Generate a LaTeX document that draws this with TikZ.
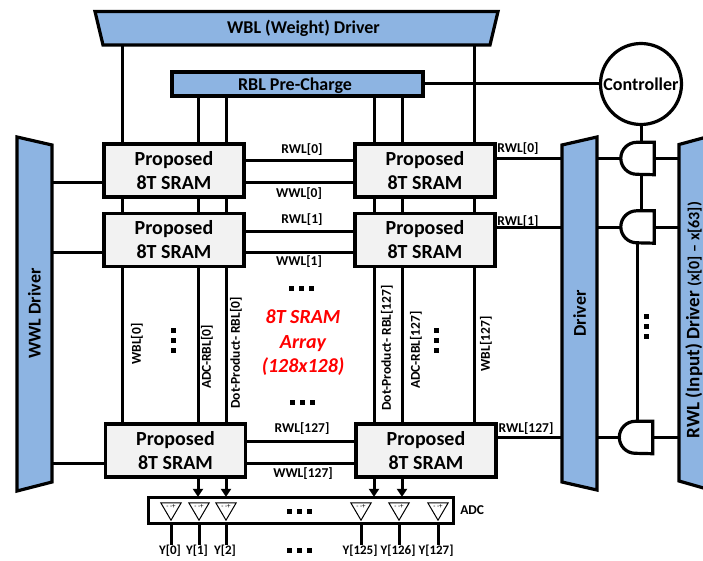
\documentclass[tikz,border=0pt]{standalone}
\usepackage{fontspec}
\setmainfont{Carlito}
\usepackage{tikz}
\usetikzlibrary{arrows.meta,positioning,calc}
\definecolor{drvfill}{HTML}{8DB4E2}
\definecolor{cellfill}{HTML}{F2F2F2}
\tikzset{
  wire/.style={line width=3pt},
  bus/.style={wire, -{Triangle[length=8pt,width=10pt]}, shorten >=-1pt},
  drvbox/.style={draw, line width=3.2pt, fill=drvfill, line join=miter},
  body/.style={inner sep=0pt, font=\bfseries\fontsize{18}{20}\selectfont},
  sram/.style={draw, line width=3.2pt, fill=cellfill, align=center, inner sep=0pt,
               minimum width=140pt, minimum height=53pt,
               font=\bfseries\fontsize{20}{24}\selectfont},
  lab/.style={inner sep=0pt, font=\bfseries\fontsize{13.5}{15}\selectfont},
  ylab/.style={inner sep=0pt, font=\bfseries\fontsize{13}{15}\selectfont},
  vlab/.style={lab, rotate=90},
  gatebox/.style={inner sep=0pt, minimum width=33pt, minimum height=32pt},
  dot/.style={fill, inner sep=0pt, minimum size=5pt}
}
\begin{document}
\begin{tikzpicture}[x=1pt,y=-1pt]
  \useasboundingbox (0,0) rectangle (703,561);
  % drivers
  \draw[drvbox] (95,11.5) -- (498,11.5) -- (490,45) -- (103,45) -- cycle;
  \draw[drvbox] (17,137) -- (52,145) -- (52,482) -- (17,491) -- cycle;
  \draw[drvbox] (562,145) -- (597,137) -- (597,490) -- (562,482) -- cycle;
  \draw[drvbox] (679,144.5) -- (714,135) -- (714,491) -- (679,481) -- cycle;
  \node[body, minimum width=387pt, minimum height=33.5pt] (wbl) at (296.5,28.25) {\hspace*{14pt}WBL (Weight) Driver};
  \node[body, minimum width=35pt, minimum height=337pt] (wwl) at (34.5,313.5)
    {\rotatebox{90}{WWL Driver}};
  \node[body, minimum width=35pt, minimum height=337pt] (drv) at (579.5,313.5)
    {\rotatebox{90}{Driver}};
  \node[body, minimum width=29pt, minimum height=337pt, anchor=west] (inp) at (679,320)
    {\rotatebox{90}{\fontsize{19}{20}\selectfont RWL (Input) Driver \fontsize{16}{20}\selectfont(x[0] -- x[63])}};
  \node[draw, line width=3.2pt, fill=drvfill, inner sep=0pt, minimum width=251pt, minimum height=24pt,
        font=\bfseries\fontsize{18}{20}\selectfont, text depth=0pt] (pre) at (297.5,84) {\hspace*{-5pt}RBL Pre-Charge};
  \node[draw, circle, line width=3.2pt, fill=white, inner sep=0pt, minimum size=81pt,
        font=\bfseries\fontsize{18}{20}\selectfont] (ctrl) at (641,84) {Controller};
  % cells
  \node[sram] (c0l) at (174,170.5) {Proposed\\8T SRAM};
  \node[sram] (c0r) at (425,170.5) {Proposed\\8T SRAM};
  \node[sram] (c1l) at (174,240) {Proposed\\8T SRAM};
  \node[sram] (c1r) at (425,240) {Proposed\\8T SRAM};
  \node[sram] (c2l) at (175.5,450.5) {Proposed\\8T SRAM};
  \node[sram] (c2r) at (426,450.5) {Proposed\\8T SRAM};
  % adc
  \node[draw, line width=3.2pt, inner sep=0pt, minimum width=305pt, minimum height=26pt] (adc) at (301,510.5) {};
  \node[lab, right=5pt of adc] (adclab) {ADC};
  % columns
  \foreach \n/\x in {wa/122, ra/198, da/226, db/374, rb/402, wb/474}
    \coordinate (\n) at (\x,0);
  \draw[wire] (wbl.south -| wa) -- (c0l.north -| wa);
  \draw[wire] (wbl.south -| wb) -- (c0r.north -| wb);
  \foreach \n in {ra, da}
    \draw[wire] (pre.south -| \n) -- (c0l.north -| \n);
  \foreach \n in {db, rb}
    \draw[wire] (pre.south -| \n) -- (c0r.north -| \n);
  \foreach \n/\c in {wa/l, ra/l, da/l, db/r, rb/r, wb/r} {
    \draw[wire] (c0\c.south -| \n) -- (c1\c.north -| \n);
    \draw[wire] (c1\c.south -| \n) -- (c2\c.north -| \n);
  }
  \foreach \n/\c in {ra/l, da/l, db/r, rb/r}
    \draw[bus] (c2\c.south -| \n) -- (adc.north -| \n);
  \draw[wire] (pre.east) -- (ctrl.west);
  % word lines
  \foreach \r/\yr/\yw in {0/161/183, 1/231/252, 2/441/463} {
    \coordinate (rw\r) at (0,\yr);
    \coordinate (ww\r) at (0,\yw);
    \draw[wire] (c\r l.east |- rw\r) -- (c\r r.west |- rw\r);
    \draw[wire] (c\r l.east |- ww\r) -- (c\r r.west |- ww\r);
    \draw[wire] (wwl.east |- ww\r) -- (c\r l.west |- ww\r);
  }
  % gates
  \foreach \r/\x/\y in {0/637.5/158.5, 1/637.5/227, 2/636/437.5} {
    \node[gatebox] (g\r) at (\x,\y) {};
    \coordinate (gy\r) at (0,\y);
    \draw[wire] (c\r r.east |- gy\r) -- (drv.west |- gy\r);
    \draw[wire] (drv.east |- gy\r) -- (g\r.west);
    \draw[wire] (g\r.east) -- (inp.west |- gy\r);
    \draw[line width=3.2pt, fill=white] (g\r.north east) -- ($(g\r.north west)+(16,0)$)
      arc[start angle=90, end angle=270, radius=16pt] -- (g\r.south east) -- cycle;
  }
  \draw[wire] (ctrl.south) -- (ctrl.south |- g0.north);
  \draw[wire] (g0.south -| ctrl) -- (g1.north -| ctrl);
  \coordinate (gl) at (637.5,0);
  \draw[wire] (g1.south -| gl) -- (g2.north -| gl);
  % comparators
  \foreach \n/\x/\xt/\t in {a0/171/170/Y[0], a1/199/197/Y[1], a2/226/225/Y[2],
      a3/361/360/Y[125], a4/399/398/Y[126], a5/438/436/Y[127]} {
    \node[inner sep=0pt, minimum width=20pt, minimum height=17pt] (\n) at (\x,511.5) {};
    \draw[line width=1pt] (\n.north west) -- (\n.north east) -- (\n.south) -- cycle;
    \node[inner sep=0pt, font=\fontsize{7}{7}\selectfont] (\n s) at ($(\n.north)+(0,3.5)$) {- -+};
    \node[ylab] (\n y) at (\xt,551) {\t};
    \draw[wire] (\n |- adc.south) -- (\n |- \n y.north);
  }
  % labels
  \foreach \t/\x/\y in {RWL[0]/302/150, WWL[0]/299/194, RWL[1]/302/220, WWL[1]/299/262,
      RWL[127]/302/429, WWL[127]/303/474, RWL[0]/518/149, RWL[1]/518/222, RWL[127]/526/429}
    \node[lab] at (\x,\y) {\t};
  \foreach \t/\x/\y in {WBL[0]/137/344, ADC-RBL[0]/207/357, Dot-Product- RBL[0]/236/353,
      Dot-Product- RBL[127]/387/348, ADC-RBL[127]/416/350, WBL[127]/486/344}
    \node[vlab] at (\x,\y) {\t};
  \node[align=center, text=red, inner sep=0pt, font=\bfseries\itshape\fontsize{20}{24.5}\selectfont] (title) at (303,343)
    {8T SRAM\\Array\\(128x128)};
  % dots
  \foreach \x/\y in {301/288, 302/402, 299/511, 299/550}
    \foreach \d in {-10,0,10}
      \node[dot] at (\x+\d,\y) {};
  \foreach \x/\y in {173/340, 436/340, 646/326}
    \foreach \d in {-10,0,10}
      \node[dot] at (\x,\y+\d) {};
\end{tikzpicture}
\end{document}
